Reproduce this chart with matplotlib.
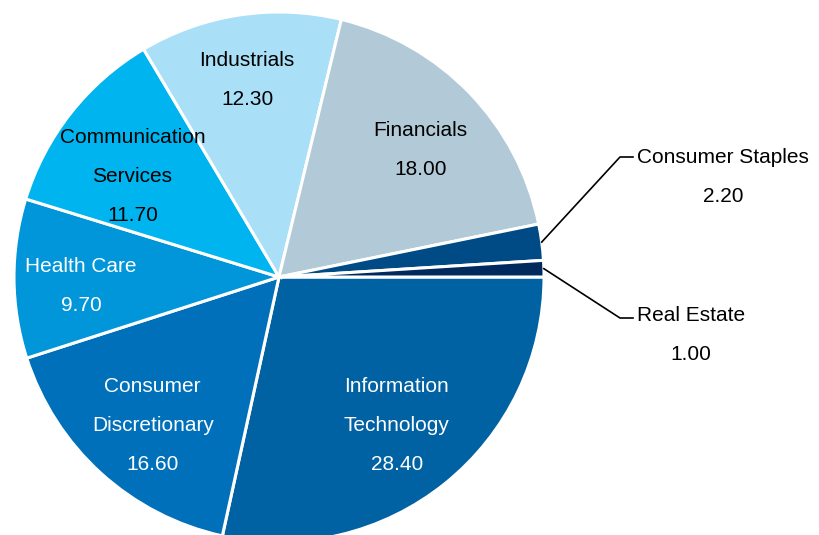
import matplotlib.pyplot as plt
import numpy as np

# Sector weights (%), in drawing order clockwise from 3 o'clock
sectors = ['Information\nTechnology', 'Consumer\nDiscretionary', 'Health Care',
           'Communication\nServices', 'Industrials', 'Financials',
           'Consumer Staples', 'Real Estate']
weights = [28.40, 16.60, 9.70, 11.70, 12.30, 18.00, 2.20, 1.00]
colors = ['#0061A3', '#0070BA', '#0096D9', '#00B4EF', '#A9DFF7', '#B2C9D8',
          '#004A85', '#002A5E']
text_colors = ['white', 'white', 'white', 'black', 'black', 'black', 'black', 'black']
explode = [0.016, 0, 0, 0, 0, 0, 0, 0]

plt.rcParams['font.family'] = ['Liberation Sans', 'DejaVu Sans']

fig = plt.figure(figsize=(8.19, 5.35), dpi=100)
ax = fig.add_axes([0, 0, 1, 1])

cx, cy, R = 279, 258, 265
wedges, _ = ax.pie(weights, colors=colors, startangle=0, counterclock=False,
                   explode=explode, center=(cx, cy), radius=R, frame=True,
                   wedgeprops=dict(edgecolor='white', linewidth=2.2))
ax.set_xlim(0, 819)
ax.set_ylim(0, 535)
ax.set_aspect('equal')
ax.axis('off')

fs = 15
ls = 2.33

# inside labels along each wedge's middle angle, with small pixel nudges
label_r = [0.72, 0.72, 0.74, 0.67, 0.76, 0.73]
nudge = [(-2, 0), (2, -7), (-2, -8), (-7, -9), (-2, -2), (2, -7)]
for i, w in enumerate(wedges[:6]):
    ang = np.deg2rad((w.theta1 + w.theta2) / 2)
    x = w.center[0] + label_r[i] * R * np.cos(ang) + nudge[i][0]
    y = w.center[1] + label_r[i] * R * np.sin(ang) + nudge[i][1]
    ax.text(x, y, f'{sectors[i]}\n{weights[i]:.2f}', ha='center', va='center',
            multialignment='center', fontsize=fs, linespacing=ls,
            color=text_colors[i])

# outside labels with elbow leader lines
elbows = [(620, 378), (620, 217)]
text_pos = [(637, 358), (637, 200)]
for k, i in enumerate([6, 7]):
    w = wedges[i]
    ang = np.deg2rad((w.theta1 + w.theta2) / 2)
    x0 = w.center[0] + R * np.cos(ang)
    y0 = w.center[1] + R * np.sin(ang)
    ex, ey = elbows[k]
    ax.plot([x0, ex, ex + 13], [y0, ey, ey], color='black', lw=1.2)
    tx, ty = text_pos[k]
    ax.text(tx, ty, f'{sectors[i]}\n{weights[i]:.2f}', ha='left', va='center',
            multialignment='center', fontsize=fs, linespacing=ls,
            color='black')

fig.savefig('out.png', dpi=100)
